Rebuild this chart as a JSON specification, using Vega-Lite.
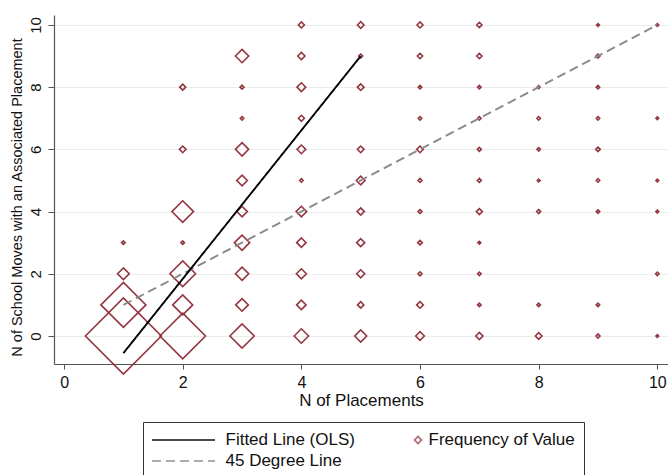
{
  "$schema": "https://vega.github.io/schema/vega-lite/v6.json",
  "width": 614,
  "height": 349,
  "autosize": {"type": "none"},
  "padding": {"left": 54, "top": 15, "right": 0, "bottom": 111},
  "background": "white",
  "config": {"view": {"stroke": null}, "font": "Liberation Sans"},
  "datasets": {
    "pts": [
      {"placements": 1, "moves": 0, "freq": 1444}, {"placements": 2, "moves": 0, "freq": 520}, {"placements": 3, "moves": 0, "freq": 148}, {"placements": 4, "moves": 0, "freq": 52}, {"placements": 5, "moves": 0, "freq": 36}, {"placements": 6, "moves": 0, "freq": 19}, {"placements": 7, "moves": 0, "freq": 13}, {"placements": 8, "moves": 0, "freq": 11}, {"placements": 9, "moves": 0, "freq": 4}, {"placements": 10, "moves": 0, "freq": 2},
      {"placements": 1, "moves": 1, "freq": 506}, {"placements": 2, "moves": 1, "freq": 100}, {"placements": 3, "moves": 1, "freq": 40}, {"placements": 4, "moves": 1, "freq": 22}, {"placements": 5, "moves": 1, "freq": 10}, {"placements": 6, "moves": 1, "freq": 11}, {"placements": 7, "moves": 1, "freq": 3}, {"placements": 8, "moves": 1, "freq": 3}, {"placements": 9, "moves": 1, "freq": 3},
      {"placements": 1, "moves": 2, "freq": 34}, {"placements": 2, "moves": 2, "freq": 165}, {"placements": 3, "moves": 2, "freq": 44}, {"placements": 4, "moves": 2, "freq": 25}, {"placements": 5, "moves": 2, "freq": 16}, {"placements": 6, "moves": 2, "freq": 4}, {"placements": 7, "moves": 2, "freq": 3}, {"placements": 10, "moves": 2, "freq": 3},
      {"placements": 1, "moves": 3, "freq": 3}, {"placements": 2, "moves": 3, "freq": 3}, {"placements": 3, "moves": 3, "freq": 58}, {"placements": 4, "moves": 3, "freq": 22}, {"placements": 5, "moves": 3, "freq": 16}, {"placements": 6, "moves": 3, "freq": 5}, {"placements": 7, "moves": 3, "freq": 2},
      {"placements": 2, "moves": 4, "freq": 117}, {"placements": 3, "moves": 4, "freq": 28}, {"placements": 4, "moves": 4, "freq": 28}, {"placements": 5, "moves": 4, "freq": 13}, {"placements": 6, "moves": 4, "freq": 4}, {"placements": 7, "moves": 4, "freq": 9}, {"placements": 8, "moves": 4, "freq": 4}, {"placements": 9, "moves": 4, "freq": 3}, {"placements": 10, "moves": 4, "freq": 2},
      {"placements": 3, "moves": 5, "freq": 28}, {"placements": 4, "moves": 5, "freq": 3}, {"placements": 5, "moves": 5, "freq": 19}, {"placements": 6, "moves": 5, "freq": 4}, {"placements": 7, "moves": 5, "freq": 4}, {"placements": 8, "moves": 5, "freq": 2}, {"placements": 9, "moves": 5, "freq": 3}, {"placements": 10, "moves": 5, "freq": 2},
      {"placements": 2, "moves": 6, "freq": 11}, {"placements": 3, "moves": 6, "freq": 44}, {"placements": 4, "moves": 6, "freq": 19}, {"placements": 5, "moves": 6, "freq": 11}, {"placements": 6, "moves": 6, "freq": 11}, {"placements": 7, "moves": 6, "freq": 4}, {"placements": 8, "moves": 6, "freq": 3}, {"placements": 9, "moves": 6, "freq": 5},
      {"placements": 3, "moves": 7, "freq": 3}, {"placements": 4, "moves": 7, "freq": 9}, {"placements": 6, "moves": 7, "freq": 3}, {"placements": 7, "moves": 7, "freq": 3}, {"placements": 8, "moves": 7, "freq": 3}, {"placements": 9, "moves": 7, "freq": 3}, {"placements": 10, "moves": 7, "freq": 2},
      {"placements": 2, "moves": 8, "freq": 9}, {"placements": 3, "moves": 8, "freq": 4}, {"placements": 4, "moves": 8, "freq": 19}, {"placements": 5, "moves": 8, "freq": 11}, {"placements": 6, "moves": 8, "freq": 3}, {"placements": 7, "moves": 8, "freq": 3}, {"placements": 8, "moves": 8, "freq": 2}, {"placements": 9, "moves": 8, "freq": 3},
      {"placements": 3, "moves": 9, "freq": 44}, {"placements": 4, "moves": 9, "freq": 13}, {"placements": 5, "moves": 9, "freq": 4}, {"placements": 6, "moves": 9, "freq": 7}, {"placements": 7, "moves": 9, "freq": 7}, {"placements": 9, "moves": 9, "freq": 4},
      {"placements": 4, "moves": 10, "freq": 9}, {"placements": 5, "moves": 10, "freq": 11}, {"placements": 6, "moves": 10, "freq": 9}, {"placements": 7, "moves": 10, "freq": 7}, {"placements": 9, "moves": 10, "freq": 2}, {"placements": 10, "moves": 10, "freq": 2}
    ],
    "lines": [
      {"placements": 1, "moves": 1, "s": "45 Degree Line"},
      {"placements": 10, "moves": 10, "s": "45 Degree Line"},
      {"placements": 1, "moves": -0.55, "s": "Fitted Line (OLS)"},
      {"placements": 5, "moves": 9.0, "s": "Fitted Line (OLS)"}
    ]
  },
  "layer": [
    {
      "data": {"name": "pts"},
      "mark": {"type": "point", "shape": "diamond", "filled": false, "strokeWidth": 1.6, "color": "#93363f", "opacity": 1},
      "encoding": {
        "x": {
          "field": "placements", "type": "quantitative",
          "scale": {"domain": [-0.17, 10.18], "nice": false, "zero": false},
          "axis": {
            "values": [0, 2, 4, 6, 8, 10], "format": "d", "grid": false,
            "title": "N of Placements", "titleFontSize": 17, "titleFontWeight": "normal", "titleColor": "#111", "titlePadding": 2,
            "labelFontSize": 16, "labelColor": "#111", "labelPadding": 5, "labelFlush": false,
            "tickSize": 5, "tickColor": "#555", "domainColor": "#555", "domainWidth": 1.2
          }
        },
        "y": {
          "field": "moves", "type": "quantitative",
          "scale": {"domain": [-0.9, 10.32], "nice": false, "zero": false},
          "axis": {
            "values": [0, 2, 4, 6, 8, 10], "format": "d",
            "grid": true, "gridColor": "#ebebeb", "gridWidth": 1,
            "title": "N of School Moves with an Associated Placement", "titleFontSize": 14.5, "titleFontWeight": "normal", "titleColor": "#111",
            "titleAngle": 270, "titleAlign": "center", "titleBaseline": "alphabetic", "titleX": -33, "titleY": 182,
            "labelAngle": 270, "labelAlign": "center", "labelBaseline": "alphabetic", "labelFontSize": 15, "labelColor": "#111", "labelPadding": 8,
            "tickSize": 6, "tickColor": "#555", "domainColor": "#555", "domainWidth": 1.2
          }
        },
        "size": {
          "field": "freq", "type": "quantitative",
          "scale": {"type": "linear", "domain": [0, 1444], "range": [0, 5776], "zero": true},
          "legend": null
        }
      }
    },
    {
      "data": {"name": "lines"},
      "mark": {"type": "line", "strokeWidth": 1.9},
      "encoding": {
        "x": {"field": "placements", "type": "quantitative"},
        "y": {"field": "moves", "type": "quantitative"},
        "color": {
          "field": "s", "type": "nominal",
          "scale": {"domain": ["Fitted Line (OLS)", "Frequency of Value", "45 Degree Line"], "range": ["#000000", "#93363f", "#8a8a8a"]},
          "legend": {
            "title": null, "orient": "none", "legendX": 89, "legendY": 407, "direction": "horizontal", "columns": 2,
            "columnPadding": -16, "rowPadding": 4, "padding": 9, "strokeColor": "#333", "fillColor": "white",
            "symbolSize": 256, "symbolStrokeWidth": 1.8, "symbolOffset": 22.5, "symbolFillColor": "transparent",
            "labelOffset": 33, "labelFontSize": 17, "labelColor": "#111", "labelFont": "Liberation Sans", "labelLimit": 0
          }
        },
        "strokeDash": {
          "field": "s", "type": "nominal",
          "scale": {"domain": ["Fitted Line (OLS)", "Frequency of Value", "45 Degree Line"], "range": [[1, 0], [1, 0], [9, 5]]},
          "legend": {
            "title": null, "orient": "none", "legendX": 89, "legendY": 407, "direction": "horizontal", "columns": 2,
            "columnPadding": -16, "rowPadding": 4, "padding": 9, "strokeColor": "#333", "fillColor": "white",
            "symbolSize": 256, "symbolStrokeWidth": 1.8, "symbolOffset": 22.5, "symbolFillColor": "transparent",
            "labelOffset": 33, "labelFontSize": 17, "labelColor": "#111", "labelFont": "Liberation Sans", "labelLimit": 0
          }
        }
      }
    },
    {
      "data": {"values": []},
      "mark": {"type": "point", "filled": false},
      "encoding": {
        "x": {"field": "placements", "type": "quantitative"},
        "y": {"field": "moves", "type": "quantitative"},
        "shape": {
          "field": "s", "type": "nominal",
          "scale": {"domain": ["Fitted Line (OLS)", "Frequency of Value", "45 Degree Line"], "range": ["M-3.94,0L3.94,0", "M3.5,0L3.94,-0.44L4.38,0L3.94,0.44Z", "M-3.94,0L3.94,0"]},
          "legend": {
            "title": null, "orient": "none", "legendX": 89, "legendY": 407, "direction": "horizontal", "columns": 2,
            "columnPadding": -16, "rowPadding": 4, "padding": 9, "strokeColor": "#333", "fillColor": "white",
            "symbolSize": 256, "symbolStrokeWidth": 1.8, "symbolOffset": 22.5, "symbolFillColor": "transparent",
            "labelOffset": 33, "labelFontSize": 17, "labelColor": "#111", "labelFont": "Liberation Sans", "labelLimit": 0
          }
        }
      }
    }
  ]
}
